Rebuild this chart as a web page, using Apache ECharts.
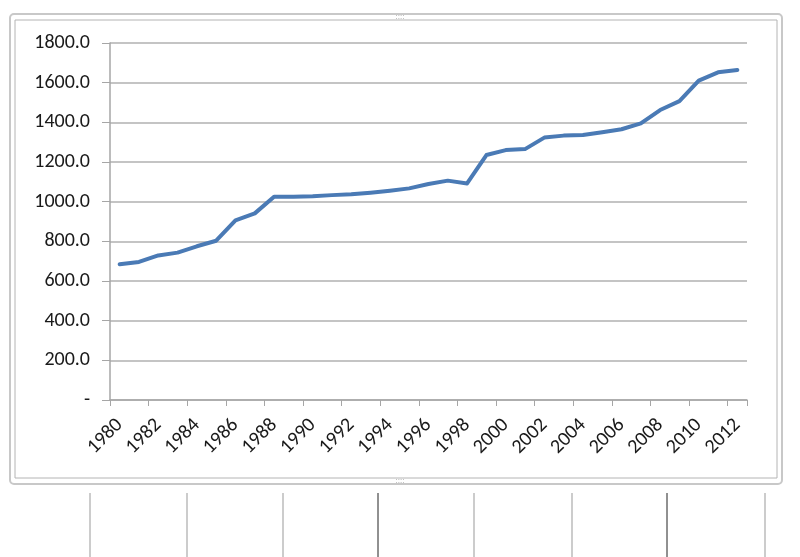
<!DOCTYPE html>
<html><head><meta charset="utf-8">
<script src="https://cdn.jsdelivr.net/npm/echarts@6/dist/echarts.min.js"></script>
<style>html,body{margin:0;padding:0;background:#fff}#c{width:800px;height:557px}</style>
</head><body><div id="c"></div>
<script>
var years = ['1980','1981','1982','1983','1984','1985','1986','1987','1988','1989','1990','1991','1992','1993','1994','1995','1996','1997','1998','1999','2000','2001','2002','2003','2004','2005','2006','2007','2008','2009','2010','2011','2012'];
var values = [684,696,729,743,775,803,906,941,1025,1025,1027,1033,1037,1045,1055,1067,1089,1106,1092,1235,1260,1265,1323,1333,1336,1350,1365,1395,1462,1507,1610,1652,1664];
var yTicks = [0,200,400,600,800,1000,1200,1400,1600,1800];
var tableLines = [90,187,283,378,474,572,667,765];
var tableDark = [false,false,false,true,false,false,true,false];

var chart = echarts.init(document.getElementById('c'), null, {renderer:'canvas'});
var font = 'Carlito, "Liberation Sans", "Open Sans", sans-serif';
var graphics = [
  {type:'rect', shape:{x:10,y:14,width:772,height:470,r:4}, style:{fill:'none',stroke:'#c8c8c8',lineWidth:2}, z:-1},
  {type:'rect', shape:{x:15,y:20,width:762,height:458}, style:{fill:'none',stroke:'#b4b4b4',lineWidth:1}, z:-1},
  {type:'text', x:400, y:17, style:{text:'::::',fill:'#999',font:'8px sans-serif',align:'center',verticalAlign:'middle'}},
  {type:'text', x:400, y:481, style:{text:'::::',fill:'#999',font:'8px sans-serif',align:'center',verticalAlign:'middle'}}
];
tableLines.forEach(function(x,i){
  graphics.push({type:'line', shape:{x1:x,y1:493,x2:x,y2:557}, style:{stroke:tableDark[i]?'#222':'#999',lineWidth:1}});
});
chart.setOption({
  animation:false,
  backgroundColor:'#fff',
  grid:{left:110,top:43,right:53,bottom:157,containLabel:false},
  xAxis:{type:'category',data:years,boundaryGap:true,
    axisLine:{lineStyle:{color:'#a6a6a6',width:1.5}},
    axisTick:{show:true,length:6,lineStyle:{color:'#a6a6a6'}},
    axisLabel:{interval:1,rotate:45,fontSize:20,color:'#1a1a1a',fontFamily:font,margin:22}},
  yAxis:{type:'value',min:0,max:1800,interval:200,
    axisLine:{show:true,lineStyle:{color:'#a6a6a6',width:1.5}},
    axisTick:{show:true,length:8,lineStyle:{color:'#a6a6a6'}},
    splitLine:{lineStyle:{color:'#b0b0b0',width:1.5}},
    axisLabel:{fontSize:20,color:'#1a1a1a',fontFamily:font,margin:20,
      formatter:function(v){return v===0?'-':v.toFixed(1);}}},
  series:[{type:'line',data:values,symbol:'none',smooth:false,
    lineStyle:{color:'#4a7ab5',width:4,cap:'round',join:'round'}}],
  graphic:graphics
});
</script></body></html>
